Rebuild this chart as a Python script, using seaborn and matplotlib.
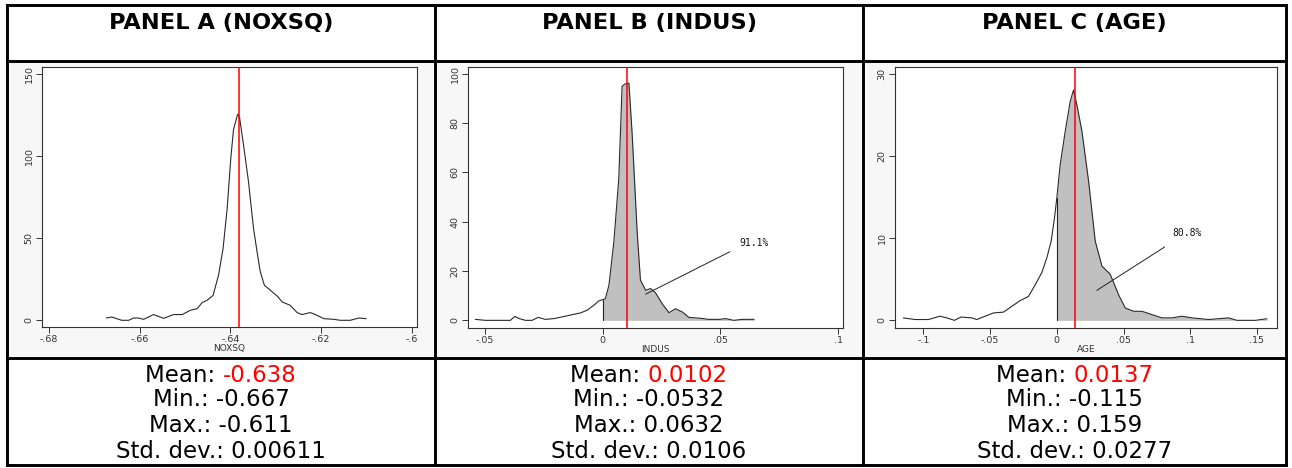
import numpy as np
import pandas as pd
import matplotlib
matplotlib.use("Agg")
import matplotlib.pyplot as plt
import seaborn as sns
from matplotlib.lines import Line2D
from matplotlib.patches import Rectangle

# ---------------- data ----------------
panel_titles = ["PANEL A (NOXSQ)", "PANEL B (INDUS)", "PANEL C (AGE)"]
x_labels = ["NOXSQ", "INDUS", "AGE"]

noxsq_x = [-0.6673, -0.6661, -0.6639, -0.6624, -0.6613, -0.6602, -0.6591, -0.6569,
           -0.6547, -0.6525, -0.6506, -0.6488, -0.6473, -0.6462, -0.6451, -0.6438,
           -0.6426, -0.6416, -0.6407, -0.6399, -0.6393, -0.6384, -0.6380, -0.6371,
           -0.6360, -0.6349, -0.6340, -0.6334, -0.6325, -0.6312, -0.6297, -0.6286,
           -0.6268, -0.6253, -0.6242, -0.6224, -0.6213, -0.6194, -0.6172, -0.6158,
           -0.6136, -0.6117, -0.6101]
noxsq_y = [1.4, 2.0, 0.0, 0.0, 1.4, 1.4, 0.6, 3.5,
           1.2, 3.5, 3.5, 6.1, 7.1, 10.8, 12.2, 15.2,
           27.4, 43.7, 68.0, 98.6, 116.0, 125.4, 124.0, 106.7,
           84.3, 55.9, 39.6, 29.5, 21.3, 18.3, 14.8, 11.2,
           9.1, 4.7, 3.5, 4.7, 3.5, 1.0, 0.6, 0.0,
           0.0, 1.4, 1.0]

indus_x = [-0.0542, -0.0499, -0.0393, -0.0374, -0.0355, -0.0329, -0.0301, -0.0275,
           -0.0244, -0.0209, -0.0173, -0.0130, -0.0095, -0.0067, -0.0038, -0.0017,
           0.0000, 0.0011, 0.0026, 0.0047, 0.0068, 0.0082, 0.0094, 0.0111,
           0.0125, 0.0146, 0.0160, 0.0182, 0.0203, 0.0224, 0.0252, 0.0281,
           0.0309, 0.0338, 0.0366, 0.0409, 0.0451, 0.0494, 0.0522, 0.0557,
           0.0593, 0.0643]
indus_y = [0.4, 0.0, 0.0, 1.6, 0.7, 0.0, 0.0, 1.2,
           0.4, 0.7, 1.4, 2.3, 3.0, 4.1, 6.1, 7.9,
           8.4, 8.8, 14.2, 31.8, 57.6, 94.9, 95.8, 96.2,
           75.2, 35.9, 16.3, 12.2, 12.9, 11.2, 6.8, 3.1,
           4.7, 3.4, 1.2, 0.9, 0.4, 0.4, 0.7, 0.0,
           0.4, 0.4]

age_x = [-0.1150, -0.1063, -0.0963, -0.0875, -0.0825, -0.0768, -0.0718, -0.0638,
         -0.0600, -0.0538, -0.0475, -0.0400, -0.0338, -0.0275, -0.0213, -0.0163,
         -0.0113, -0.0075, -0.0043, -0.0018, 0.0000, 0.0025, 0.0063, 0.0100,
         0.0125, 0.0150, 0.0188, 0.0238, 0.0288, 0.0338, 0.0400, 0.0463,
         0.0513, 0.0575, 0.0638, 0.0713, 0.0788, 0.0863, 0.0938, 0.1013,
         0.1138, 0.1288, 0.1350, 0.1488, 0.1575]
age_y = [0.3, 0.1, 0.1, 0.5, 0.3, 0.0, 0.4, 0.3,
         0.1, 0.5, 0.9, 1.0, 1.7, 2.4, 2.9, 4.3,
         5.8, 7.6, 9.6, 12.4, 14.9, 18.9, 23.0, 26.6,
         28.0, 26.2, 23.0, 16.9, 9.6, 6.6, 5.6, 3.1,
         1.5, 1.1, 1.1, 0.7, 0.3, 0.3, 0.5, 0.3,
         0.1, 0.3, 0.0, 0.0, 0.2]

means = [-0.638, 0.0102, 0.0137]
mean_labels = ["-0.638", "0.0102", "0.0137"]
min_labels = ["-0.667", "-0.0532", "-0.115"]
max_labels = ["-0.611", "0.0632", "0.159"]
std_labels = ["0.00611", "0.0106", "0.0277"]

xticks = [[-0.68, -0.66, -0.64, -0.62, -0.60],
          [-0.05, 0.0, 0.05, 0.1],
          [-0.1, -0.05, 0.0, 0.05, 0.1, 0.15]]
xtick_labels = [["-.68", "-.66", "-.64", "-.62", "-.6"],
                ["-.05", "0", ".05", ".1"],
                ["-.1", "-.05", "0", ".05", ".1", ".15"]]
yticks = [[0, 50, 100, 150], [0, 20, 40, 60, 80, 100], [0, 10, 20, 30]]
ytick_labels = [["0", "50", "100", "150"],
                ["0", "20", "40", "60", "80", "100"],
                ["0", "10", "20", "30"]]
share_labels = [None, "91.1%", "80.8%"]
shade_from = [None, 0.0, 0.0]
# annotation geometry (data coords): line start, line end, text anchor
annot_line = [None, ((0.0182, 10.6), (0.054, 27.8)), ((0.030, 3.65), (0.0808, 8.92))]
annot_text = [None, (0.0579, 31.2), (0.0863, 10.6)]

xlims = [(-0.68147, -0.5989), (-0.0573, 0.1021), (-0.1213, 0.165)]
ylims = [(-4.07, 154.1), (-3.1, 102.7), (-0.93, 30.8)]

curves = [(noxsq_x, noxsq_y), (indus_x, indus_y), (age_x, age_y)]

# ---------------- figure ----------------
sns.set_theme(style="white")
plt.rcParams["font.family"] = ["DejaVu Sans"]

W, H = 1292, 468
fig = plt.figure(figsize=(W / 100, H / 100), dpi=100)
fig.patch.set_facecolor("white")

def fx(px):
    return px / W

def fy(py):
    return 1 - py / H

# table geometry (pixels)
col_edges = [7, 435, 863, 1286]
row_edges = [5, 61, 358, 465]

# light grey graph regions
for i in range(3):
    x0, x1 = col_edges[i] + 2, col_edges[i + 1] - 2
    y0, y1 = row_edges[1] + 2, row_edges[2] - 2
    fig.add_artist(Rectangle((fx(x0), fy(y1)), fx(x1) - fx(x0), fy(y0) - fy(y1),
                             transform=fig.transFigure, facecolor="#f7f7f7",
                             edgecolor="none", zorder=0))

axes_px = [(42, 417, 67, 327), (468, 843, 67, 328), (895, 1277, 67, 328)]

for i in range(3):
    l, r, t, b = axes_px[i]
    ax = fig.add_axes([fx(l), fy(b), fx(r) - fx(l), fy(t) - fy(b)])
    ax.set_facecolor("white")
    cx, cy = curves[i]
    df = pd.DataFrame({"x": cx, "y": cy})
    if shade_from[i] is not None:
        xa = np.asarray(cx)
        ya = np.asarray(cy)
        m = xa >= shade_from[i]
        ax.fill_between(xa[m], 0, ya[m], color="#c0c0c0", linewidth=0, zorder=1)
        h0 = np.interp(shade_from[i], xa, ya)
        ax.plot([shade_from[i], shade_from[i]], [0, h0], color="#222222", lw=0.8, zorder=2)
    sns.lineplot(data=df, x="x", y="y", ax=ax, color="#2a2a2a", linewidth=0.8,
                 sort=False, zorder=3)
    ax.axvline(means[i], color="#ff0000", lw=1.1, zorder=4)
    if share_labels[i] is not None:
        (xs, ys), (xe, ye) = annot_line[i]
        ax.plot([xs, xe], [ys, ye], color="#222222", lw=0.7, zorder=5)
        ax.text(annot_text[i][0], annot_text[i][1], share_labels[i],
                fontsize=7, family="DejaVu Sans Mono", va="center", ha="left",
                color="#111111", zorder=6)
    ax.set_xlim(*xlims[i])
    ax.set_ylim(*ylims[i])
    ax.set_xticks(xticks[i])
    ax.set_xticklabels(xtick_labels[i], fontsize=6.8, color="#333333")
    ax.set_yticks(yticks[i])
    ax.set_yticklabels(ytick_labels[i], fontsize=6.8, color="#333333",
                       rotation=90, va="center")
    ax.tick_params(axis="both", direction="out", length=4, width=0.7,
                   color="#333333", pad=2, bottom=True, left=True)
    ax.set_xlabel(x_labels[i], fontsize=6.5, color="#333333", labelpad=0)
    ax.set_ylabel("")
    for s in ax.spines.values():
        s.set_color("#333333")
        s.set_linewidth(0.8)
    ax.grid(False)

# table lines
lw = 2.1
for y in row_edges:
    fig.add_artist(Line2D([fx(col_edges[0]), fx(col_edges[-1])], [fy(y), fy(y)],
                          transform=fig.transFigure, color="black", lw=lw,
                          solid_capstyle="projecting", zorder=10))
for x in col_edges:
    fig.add_artist(Line2D([fx(x), fx(x)], [fy(row_edges[0]), fy(row_edges[-1])],
                          transform=fig.transFigure, color="black", lw=lw,
                          solid_capstyle="projecting", zorder=10))

# header titles
for i in range(3):
    cxp = (col_edges[i] + col_edges[i + 1]) / 2
    fig.text(fx(cxp), fy(22.5), panel_titles[i], ha="center", va="center",
             fontsize=16.2, fontweight="bold", color="black")

# stats
stat_fs = 16.5
line_y = [375, 400, 425.5, 451]
fig.canvas.draw()
renderer = fig.canvas.get_renderer()
for i in range(3):
    cxp = (col_edges[i] + col_edges[i + 1]) / 2
    t1 = fig.text(0, fy(line_y[0]), "Mean: ", ha="left", va="center",
                  fontsize=stat_fs, color="black")
    t2 = fig.text(0, fy(line_y[0]), mean_labels[i], ha="left", va="center",
                  fontsize=stat_fs, color="#ff0000")
    w1 = t1.get_window_extent(renderer).width
    w2 = t2.get_window_extent(renderer).width
    start = cxp - (w1 + w2) / 2
    t1.set_x(fx(start))
    t2.set_x(fx(start + w1))
    for txt, yy in [("Min.: " + min_labels[i], line_y[1]),
                    ("Max.: " + max_labels[i], line_y[2]),
                    ("Std. dev.: " + std_labels[i], line_y[3])]:
        fig.text(fx(cxp), fy(yy), txt, ha="center", va="center",
                 fontsize=stat_fs, color="black")

fig.savefig("out.png", dpi=100, facecolor="white")
